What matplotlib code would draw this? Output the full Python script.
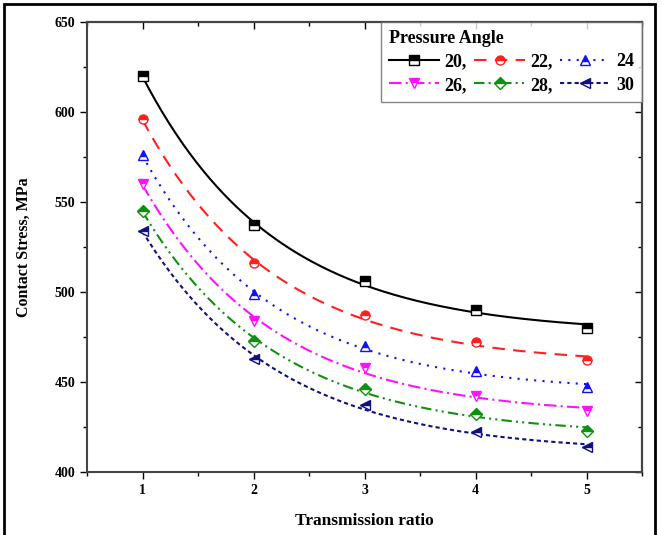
import numpy as np
import matplotlib
matplotlib.use("Agg")
import matplotlib.pyplot as plt
from matplotlib.patches import Rectangle
from matplotlib.ticker import MultipleLocator

plt.rcParams['font.family'] = ['Liberation Serif', 'DejaVu Serif']
plt.rcParams['font.weight'] = 'bold'

ratio = [1, 2, 3, 4, 5]
angles = ["20,", "22,", "24", "26,", "28,", "30"]
s20 = [620, 537, 506, 490, 480]
s22 = [596, 516, 487, 472, 462]
s24 = [576, 499, 470, 456, 447]
s26 = [560, 484, 458, 442, 434]
s28 = [545, 473, 446, 432, 423]
s30 = [534, 463, 437, 422, 414]
series = [s20, s22, s24, s26, s28, s30]

colors = ['#000000', '#ff2020', '#1010ff', '#ff10ff', '#109010', '#10107f']
markers = ['s', 'o', '^', 'v', 'D', '<']
styles = ['-', (0, (6, 4)), (0, (1, 3)), (0, (6, 2, 1, 2)), (0, (5, 2, 1, 2, 1, 2)), (0, (2, 1.5))]


def exp_fit(x, y):
    x = np.asarray(x, float)
    y = np.asarray(y, float)
    best = None
    for t in np.linspace(0.2, 5, 400):
        M = np.column_stack([np.ones_like(x), np.exp(-x / t)])
        coef, res, *_ = np.linalg.lstsq(M, y, rcond=None)
        err = np.sum((M @ coef - y) ** 2)
        if best is None or err < best[0]:
            best = (err, t, coef)
    _, t, coef = best
    xs = np.linspace(x.min(), x.max(), 200)
    return xs, coef[0] + coef[1] * np.exp(-xs / t)


fig = plt.figure(figsize=(6.62, 5.35), dpi=100)
ax = fig.add_axes([87 / 662, 1 - 472 / 535, (642 - 87) / 662, (472 - 22) / 535])

handles = []
for ys, c, m, ls, lab in zip(series, colors, markers, styles, angles):
    xs, yf = exp_fit(ratio, ys)
    ax.plot(xs, yf, color=c, linestyle=ls, lw=1.5)
    ax.plot(ratio, ys, linestyle='none', marker=m, color=c, ms=6.5,
            fillstyle='top', markerfacecoloralt='white', mec=c, mew=1.0)
    h, = ax.plot([], [], color=c, linestyle=ls, lw=1.5, marker=m, ms=6.5,
                 fillstyle='top', markerfacecoloralt='white', mec=c, label=lab)
    handles.append(h)

ax.set_xlim(0.5, 5.5)
ax.set_ylim(400, 650)
ax.xaxis.set_major_locator(MultipleLocator(1))
ax.xaxis.set_minor_locator(MultipleLocator(0.5))
ax.yaxis.set_major_locator(MultipleLocator(50))
ax.yaxis.set_minor_locator(MultipleLocator(25))
ax.tick_params(which='both', direction='out', labelsize=10, width=1.0)
ax.tick_params(which='major', length=5)
ax.tick_params(which='minor', length=3)

axt = ax.secondary_xaxis('top')
axt.xaxis.set_major_locator(MultipleLocator(1))
axt.xaxis.set_minor_locator(MultipleLocator(0.5))
axt.tick_params(which='both', direction='in', labeltop=False, width=1.0)
axt.tick_params(which='major', length=5)
axt.tick_params(which='minor', length=3)
axr = ax.secondary_yaxis('right')
axr.yaxis.set_major_locator(MultipleLocator(50))
axr.yaxis.set_minor_locator(MultipleLocator(25))
axr.tick_params(which='both', direction='in', labelright=False, width=1.0)
axr.tick_params(which='major', length=5)
axr.tick_params(which='minor', length=3)

for sp in ax.spines.values():
    sp.set_linewidth(1.5)
    sp.set_color('#444444')
axt.spines['top'].set_linewidth(1.5)
axr.spines['right'].set_linewidth(1.5)

for lbl in ax.get_xticklabels() + ax.get_yticklabels():
    lbl.set_fontweight('bold')

ax.set_xlabel('Transmission ratio', fontsize=12.5, fontweight='bold', labelpad=12)
ax.set_ylabel('Contact Stress, MPa', fontsize=11.5, fontweight='bold', labelpad=16)

# row-wise order: 20,22,24 / 26,28,30 (matplotlib fills column-wise)
order = [0, 3, 1, 4, 2, 5]
leg = ax.legend([handles[i] for i in order], [angles[i] for i in order],
                ncol=3, loc='upper right', title='Pressure Angle',
                fontsize=13, title_fontproperties={'weight': 'bold', 'size': 13},
                frameon=True, fancybox=False, edgecolor='#666666',
                handlelength=2.8, handletextpad=0.3, columnspacing=0.4,
                borderaxespad=0.0, labelspacing=0.35, borderpad=0.45)
leg._legend_box.align = 'left'
leg.get_frame().set_linewidth(1.0)
for t in leg.get_texts():
    t.set_fontweight('bold')

fig.patches.append(Rectangle((4 / 662, -0.01), (655 - 4) / 662, 1 - 4 / 535 + 0.01,
                             transform=fig.transFigure, fill=False,
                             edgecolor='black', lw=2.0))

fig.savefig('out.png', dpi=100)
